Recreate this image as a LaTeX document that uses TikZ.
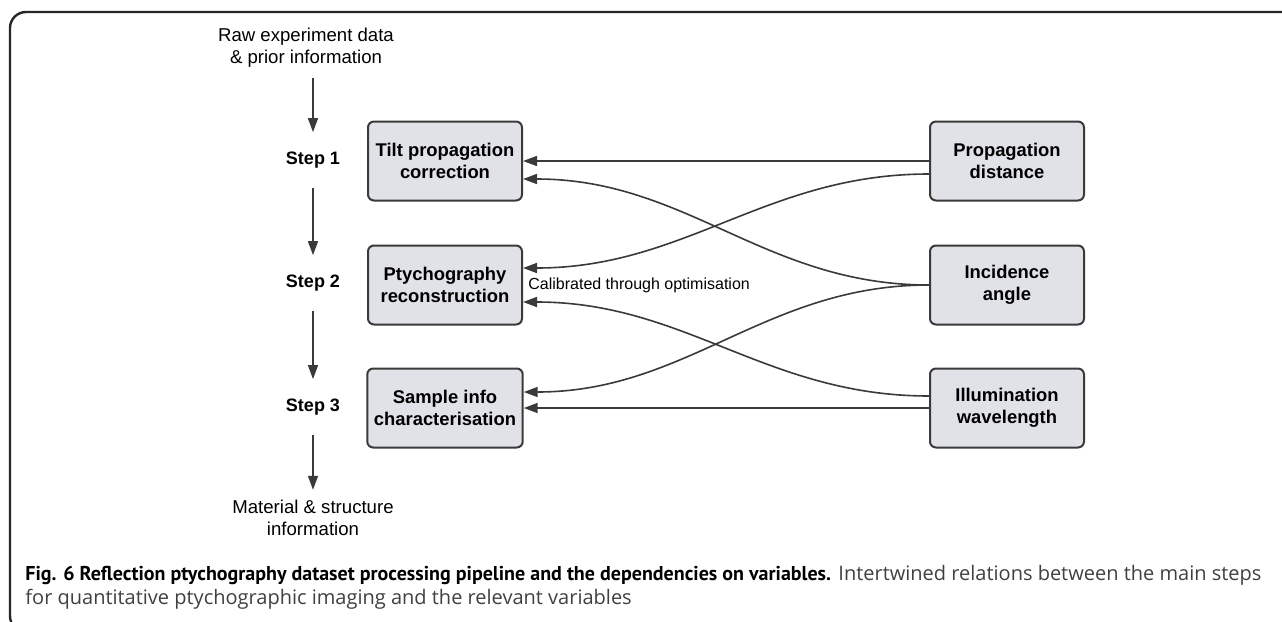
\documentclass[tikz,border=0pt]{standalone}
\usepackage{fontspec}
\setmainfont{Liberation Sans}
\newfontfamily\capfont{PT Sans}
\newfontfamily\captext{Open Sans}
\usetikzlibrary{arrows.meta}
\definecolor{boxfill}{RGB}{224,226,231}
\definecolor{linegray}{RGB}{58,58,58}
\begin{document}
\begin{tikzpicture}[x=0.5pt, y=-0.5pt, >={Triangle[length=7pt,width=5pt]}, line join=round,
	var/.style={draw=linegray, line width=1pt, fill=boxfill, rounded corners=3pt, minimum width=77pt, minimum height=39.5pt, align=center, font=\fontsize{9.2}{10.8}\selectfont\bfseries},
	stepnode/.style={minimum height=27.5pt, inner sep=0pt, font=\fontsize{9}{11}\selectfont\bfseries},
	info/.style={align=center, inner sep=5pt, font=\fontsize{9.3}{11}\selectfont},
	link/.style={->, draw=linegray, line width=0.8pt}]
	\useasboundingbox (0,0) rectangle (1282,622);
	\clip (0,0) rectangle (1282,622);
	\draw [line width=1.2pt, rounded corners=8pt, black!85] (1290,12) -- (10,12) -- (10,632) -- (40,632);
	\node [info] (raw) at (306,48) {Raw experiment data\\\& prior information};
	\node [stepnode] (s1) at (313,160) {Step 1};
	\node [stepnode] (s2) at (313,283) {Step 2};
	\node [stepnode] (s3) at (313,407) {Step 3};
	\node [info] (out) at (313,518) {Material \& structure\\information};
	\node [var] (tilt) at (445,161) {Tilt propagation\\correction};
	\node [var] (ptycho) at (445,285) {Ptychography\\reconstruction};
	\node [var] (sample) at (445,408) {Sample info\\characterisation};
	\node [var] (dist) at (1007,161) {Propagation\\distance};
	\node [var] (angle) at (1007,285) {Incidence\\angle};
	\node [var] (wave) at (1007,408) {Illumination\\wavelength};
	\node [anchor=west, inner sep=0pt, font=\fontsize{8}{9.6}\selectfont] (calib) at ([xshift=2.5pt]ptycho.east) {Calibrated through optimisation};
	\draw [link] (raw.south -| s1) -- (s1);
	\draw [link] (s1) -- (s2);
	\draw [link] (s2) -- (s3);
	\draw [link] (s3) -- (out);
	\draw [link] (dist) -- (tilt);
	\draw [link] (wave) -- (sample);
	\draw [link] (angle.west) to [out=180, in=0] ([yshift=-9pt]tilt.east);
	\draw [link] ([yshift=-6.5pt]dist.west) to [out=180, in=0] ([yshift=8.5pt]ptycho.east);
	\draw [link] (angle.west) to [out=180, in=0] ([yshift=8pt]sample.east);
	\draw [link] ([yshift=6pt]wave.west) to [out=180, in=0] ([yshift=-8.5pt]ptycho.east);
	\node [anchor=north west, align=left, inner sep=0pt, font=\fontsize{10}{12}\selectfont] (cap) at (25,565) {{\capfont\bfseries Fig. 6 Reflection ptychography dataset processing pipeline and the dependencies on variables.} {\captext\color{black!75}Intertwined relations between the main steps}\\{\captext\color{black!75}for quantitative ptychographic imaging and the relevant variables}};
\end{tikzpicture}
\end{document}
